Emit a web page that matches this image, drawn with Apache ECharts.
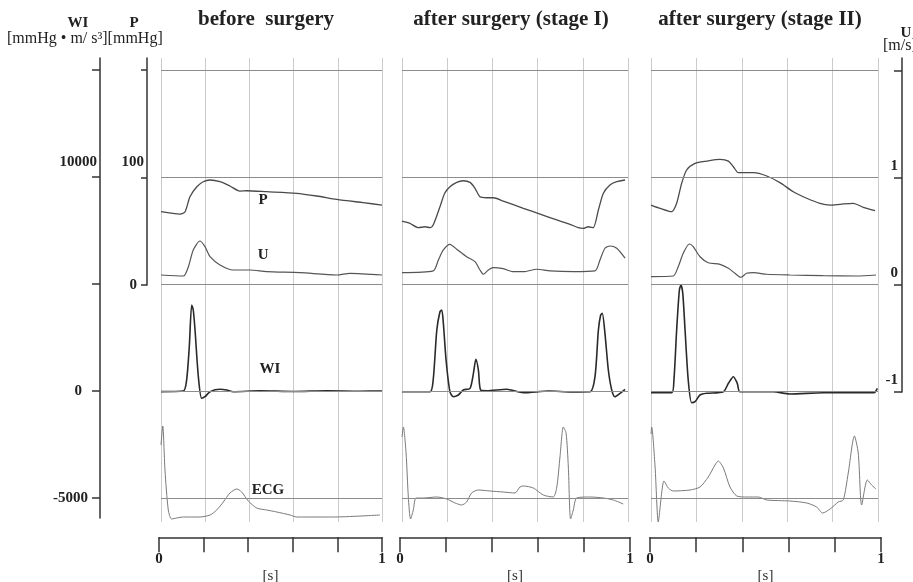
<!DOCTYPE html>
<html>
<head>
<meta charset="utf-8">
<script src="https://cdn.jsdelivr.net/npm/echarts@6/dist/echarts.min.js"></script>
<style>
  html, body { margin: 0; padding: 0; background: #fff; }
  #chart { width: 913px; height: 582px; }
</style>
</head>
<body>
<div id="chart"></div>
<script>
// time [s] / value pairs
const pBefore = [[0,68.2],[0.086,66.0],[0.109,68.2],[0.131,82.1],[0.162,91.4],[0.191,96.1],[0.222,97.7],[0.267,96.1],[0.312,92.1],[0.357,87.4],[0.388,87.7],[0.478,86.8],[0.614,85.3],[0.705,82.8],[0.795,79.7],[0.915,76.6],[1,74.4]];
const uBefore = [[0,0.093],[0.101,0.084],[0.124,0.171],[0.146,0.327],[0.176,0.411],[0.199,0.358],[0.222,0.264],[0.267,0.187],[0.327,0.14],[0.403,0.14],[0.478,0.124],[0.629,0.115],[0.795,0.093],[0.855,0.109],[1,0.093]];
const wiBefore = [[0,-30],[0.101,0],[0.116,514],[0.128,2070],[0.139,4019],[0.146,3785],[0.154,2850],[0.169,668],[0.184,-341],[0.199,-266],[0.222,-33],[0.267,79],[0.297,47],[0.327,-33],[0.45,10],[0.6,-20],[0.75,10],[0.9,-10],[1,0]];
const ecgBefore = [[0,0.54],[0.008,0.73],[0.018,0.29],[0.033,-0.11],[0.048,-0.2],[0.071,-0.19],[0.101,-0.18],[0.176,-0.18],[0.222,-0.16],[0.252,-0.11],[0.282,-0.03],[0.312,0.06],[0.343,0.1],[0.365,0.07],[0.395,-0.02],[0.433,-0.09],[0.478,-0.11],[0.524,-0.13],[0.584,-0.16],[0.614,-0.18],[0.78,-0.18],[0.991,-0.16]];

const pStage1 = [[0,59.5],[0.035,57.4],[0.072,53.3],[0.102,54.2],[0.124,53.3],[0.138,55.8],[0.168,72.8],[0.189,85.3],[0.212,91.4],[0.242,95.5],[0.271,97],[0.301,95.5],[0.323,90],[0.345,82.1],[0.375,81.2],[0.404,81.2],[0.448,78.1],[0.537,71.3],[0.611,66],[0.685,60.5],[0.743,56.5],[0.78,53.3],[0.802,52.7],[0.824,54.2],[0.846,53.3],[0.869,69.8],[0.891,85.3],[0.92,93],[0.95,96.1],[0.987,97.7]];
const uStage1 = [[0,0.115],[0.138,0.131],[0.161,0.234],[0.183,0.327],[0.212,0.38],[0.242,0.334],[0.286,0.264],[0.323,0.218],[0.345,0.14],[0.36,0.1],[0.382,0.14],[0.404,0.162],[0.448,0.152],[0.492,0.124],[0.537,0.124],[0.596,0.147],[0.655,0.131],[0.758,0.124],[0.854,0.131],[0.876,0.234],[0.898,0.343],[0.92,0.364],[0.95,0.343],[0.987,0.25]];
const wiStage1 = [[0,-33],[0.124,-33],[0.138,514],[0.154,2850],[0.168,3706],[0.176,3785],[0.183,3164],[0.195,1449],[0.212,-33],[0.227,-266],[0.249,-187],[0.271,47],[0.301,126],[0.316,827],[0.327,1481],[0.338,981],[0.348,47],[0.375,14],[0.463,79],[0.537,-79],[0.65,0],[0.75,-40],[0.832,-33],[0.854,668],[0.869,2850],[0.879,3551],[0.886,3631],[0.898,2696],[0.913,981],[0.928,47],[0.942,-266],[0.965,-107],[0.987,79]];
const ecgStage1 = [[0,0.62],[0.006,0.72],[0.018,0.46],[0.028,0.02],[0.038,-0.2],[0.05,-0.11],[0.062,0.01],[0.094,0.01],[0.154,0.02],[0.198,0],[0.235,-0.04],[0.264,-0.06],[0.286,-0.03],[0.308,0.06],[0.338,0.09],[0.389,0.08],[0.448,0.07],[0.5,0.06],[0.522,0.12],[0.537,0.13],[0.581,0.11],[0.625,0.04],[0.669,0.02],[0.685,0.12],[0.699,0.42],[0.714,0.72],[0.726,0.66],[0.736,0.32],[0.746,-0.2],[0.758,-0.11],[0.773,0.01],[0.832,0.02],[0.891,0.01],[0.935,-0.01],[0.979,-0.05]];

const pStage2 = [[0,74.4],[0.04,71.3],[0.091,68.2],[0.113,76],[0.135,94.6],[0.157,107],[0.194,113.2],[0.245,115.3],[0.304,116.9],[0.341,115.3],[0.363,110],[0.385,104.5],[0.451,104.5],[0.51,101.4],[0.568,95.2],[0.627,86.8],[0.686,80.7],[0.744,76],[0.789,74.4],[0.833,75.1],[0.891,76],[0.935,72.3],[0.987,69.1]];
const uStage2 = [[0,0.078],[0.098,0.084],[0.12,0.171],[0.142,0.296],[0.169,0.383],[0.186,0.358],[0.216,0.264],[0.252,0.208],[0.304,0.193],[0.341,0.156],[0.37,0.109],[0.396,0.072],[0.421,0.109],[0.451,0.115],[0.51,0.1],[0.612,0.093],[0.759,0.087],[0.906,0.084],[0.991,0.093]];
const wiStage2 = [[0,-79],[0.091,-79],[0.101,514],[0.113,2850],[0.125,4720],[0.132,4953],[0.14,4565],[0.15,2850],[0.164,514],[0.179,-547],[0.194,-500],[0.216,-187],[0.245,-107],[0.319,-33],[0.341,360],[0.363,668],[0.38,360],[0.392,-33],[0.539,-33],[0.612,-140],[0.759,-79],[0.982,-79],[0.997,126]];
const ecgStage2 = [[0,0.65],[0.003,0.72],[0.018,0.32],[0.032,-0.23],[0.047,0.06],[0.057,0.18],[0.076,0.11],[0.098,0.08],[0.172,0.09],[0.216,0.12],[0.252,0.22],[0.282,0.34],[0.296,0.38],[0.319,0.31],[0.348,0.12],[0.378,0.03],[0.422,0.02],[0.473,0.02],[0.51,-0.01],[0.612,-0.02],[0.686,-0.04],[0.73,-0.08],[0.756,-0.14],[0.789,-0.1],[0.825,-0.03],[0.847,-0.01],[0.869,0.26],[0.896,0.63],[0.913,0.46],[0.928,-0.06],[0.953,0.19],[0.972,0.14],[0.991,0.1]];

const titles = ['before  surgery', 'after surgery (stage I)', 'after surgery (stage II)'];
const WI_TICKS = [-5000, 0, 5000, 10000, 15000];
const WI_LABELS = [-5000, 0, 10000];
const P_TICKS = [0, 100, 200];
const P_LABELS = [0, 100];
const U_TICKS = [-1, 0, 1, 2];
const U_LABELS = [-1, 0, 1];
const T_LABELS = [0, 1];

const FONT = "'Liberation Serif', 'DejaVu Serif', serif";
const TOP = 58, HEIGHT = 464;
const AX = '#333';

const panels = [
  { left: 161, width: 221, axLeft: 159, axWidth: 223, title: 266, data: [pBefore, uBefore, wiBefore, ecgBefore] },
  { left: 402, width: 226, axLeft: 400, axWidth: 230, title: 511, data: [pStage1, uStage1, wiStage1, ecgStage1] },
  { left: 651, width: 227, axLeft: 650, axWidth: 231, title: 760, data: [pStage2, uStage2, wiStage2, ecgStage2] }
];
// each panel axis shares the same pixel span (58..522)
const ranges = { wi: [-6121, 15561], p: [-220.5, 211.2], u: [-2.215, 2.121], ecg: [-0.23, 4.41] };

const grid = [], xAxis = [], yAxis = [], series = [];

panels.forEach((pn, i) => {
  grid.push({ left: pn.left, width: pn.width, top: TOP, height: HEIGHT });
  xAxis.push({
    type: 'value', gridIndex: i, min: 0, max: 1, interval: 0.2,
    axisLine: { show: false }, axisTick: { show: false }, axisLabel: { show: false },
    splitLine: { show: true, showMinLine: true, showMaxLine: true, lineStyle: { color: '#cbcbcb', width: 1 } }
  });
  ['wi', 'p', 'u', 'ecg'].forEach(k => {
    yAxis.push({ type: 'value', gridIndex: i, show: false, min: ranges[k][0], max: ranges[k][1], splitLine: { show: false } });
  });
});

// bottom time axes
panels.forEach((pn, i) => {
  grid.push({ left: pn.axLeft, width: pn.axWidth, top: 537, height: 1 });
  xAxis.push({
    type: 'value', gridIndex: 3 + i, min: 0, max: 1, interval: 0.2,
    name: '[s]', nameLocation: 'middle', nameGap: 31,
    nameTextStyle: { fontFamily: FONT, fontSize: 15, color: '#333' },
    axisLine: { show: true, lineStyle: { color: AX, width: 1.5 } },
    axisTick: { show: true, length: 15, lineStyle: { color: AX, width: 1.5 } },
    axisLabel: { customValues: T_LABELS, margin: 14, fontFamily: FONT, fontWeight: 'bold', fontSize: 15, color: '#222' },
    splitLine: { show: false }
  });
  yAxis.push({ type: 'value', gridIndex: 3 + i, show: false });
});

// left WI axis, left P axis, right U axis
grid.push({ left: 100, width: 1, top: TOP, height: 460 });
grid.push({ left: 147, width: 1, top: TOP, height: 227 });
grid.push({ left: 902, width: 1, top: TOP, height: 334 });
[6, 7, 8].forEach(g => xAxis.push({ type: 'value', gridIndex: g, show: false }));

const rich = {
  up: { fontFamily: FONT, fontWeight: 'bold', fontSize: 15, color: '#222', padding: [0, 0, 30, 0] },
  m: { fontFamily: FONT, fontWeight: 'bold', fontSize: 15, color: '#222', padding: [0, 9, 0, 0] },
  z: { fontFamily: FONT, fontWeight: 'bold', fontSize: 15, color: '#222', padding: [0, 15, 0, 0] },
  pz: { fontFamily: FONT, fontWeight: 'bold', fontSize: 15, color: '#222', padding: [0, 7, 0, 0] },
  uu: { fontFamily: FONT, fontWeight: 'bold', fontSize: 15, color: '#222', padding: [0, 0, 24, 0] }
};
const lineStyle = { color: AX, width: 1.5 };

yAxis.push({
  type: 'value', gridIndex: 6, position: 'left', min: -5935, max: 15561,
  axisLine: { show: true, lineStyle },
  axisTick: { show: true, customValues: WI_TICKS, length: 8, lineStyle },
  axisLabel: {
    customValues: WI_LABELS, margin: 3, rich,
    formatter: v => v === 10000 ? '{up|10000}' : (v === 0 ? '{z|0}' : '{m|' + v + '}')
  },
  splitLine: { show: false }
});
yAxis.push({
  type: 'value', gridIndex: 7, position: 'left', min: 0, max: 211.2,
  axisLine: { show: true, lineStyle },
  axisTick: { show: true, customValues: P_TICKS, length: 6, lineStyle },
  axisLabel: {
    customValues: P_LABELS, margin: 3, rich,
    formatter: v => v === 100 ? '{up|100}' : '{pz|' + v + '}'
  },
  splitLine: { show: false }
});
yAxis.push({
  type: 'value', gridIndex: 8, position: 'right', min: -1, max: 2.121,
  axisLine: { show: true, lineStyle },
  axisTick: { show: true, inside: true, customValues: U_TICKS, length: 8, lineStyle },
  axisLabel: { customValues: U_LABELS, inside: true, margin: 5, rich, formatter: v => '{uu|' + v + '}' },
  splitLine: { show: false }
});

const traceStyle = [
  { color: '#4a4a4a', width: 1.3 },
  { color: '#555', width: 1.2 },
  { color: '#2a2a2a', width: 1.6 },
  { color: '#7a7a7a', width: 1 }
];
const names = ['P', 'U', 'WI', 'ECG'];
const tagAt = [[0.462, 79], [0.462, 0.28], [0.493, 1028], [0.484, 0.09]];
const axisOrder = [1, 2, 0, 3]; // P->p, U->u, WI->wi, ECG->ecg

panels.forEach((pn, i) => {
  pn.data.forEach((d, k) => {
    const s = {
      type: 'line', name: names[k], xAxisIndex: i, yAxisIndex: 4 * i + axisOrder[k],
      data: d, showSymbol: false, smooth: 0.25, silent: true,
      lineStyle: traceStyle[k], z: 3
    };
    if (k === 2) {
      s.markLine = {
        silent: true, symbol: 'none', label: { show: false },
        lineStyle: { color: '#8c8c8c', width: 1, type: 'solid' },
        emphasis: { disabled: true },
        data: WI_TICKS.map(v => ({ yAxis: v }))
      };
    }
    if (i === 0) {
      s.markPoint = {
        symbol: 'circle', symbolSize: 1, silent: true,
        itemStyle: { color: 'rgba(0,0,0,0)' },
        label: { show: true, position: 'inside', formatter: names[k], fontFamily: FONT, fontWeight: 'bold', fontSize: 15, color: '#222' },
        data: [{ coord: tagAt[k] }]
      };
    }
    series.push(s);
  });
});

const txt = (text, x, y, size, bold, align) => ({
  type: 'text', x, y, silent: true,
  style: { text, fill: '#222', font: (bold ? 'bold ' : '') + size + 'px ' + FONT, textAlign: align || 'center', textVerticalAlign: 'middle', align: align || 'center', verticalAlign: 'middle' }
});

const graphic = [
  txt('WI', 78, 23, 15, true),
  txt('P', 134, 23, 15, true),
  txt('[mmHg \u2022 m/ s\u00b3][mmHg]', 7, 39, 16, false, 'left'),
  txt('U', 906, 33, 15, true),
  txt('[m/s]', 883, 46, 16, false, 'left')
];
panels.forEach((pn, i) => graphic.push(txt(titles[i], pn.title, 20, 21, true)));

const chart = echarts.init(document.getElementById('chart'));
chart.setOption({
  animation: false,
  backgroundColor: '#fff',
  grid, xAxis, yAxis, series, graphic
});
</script>
</body>
</html>
